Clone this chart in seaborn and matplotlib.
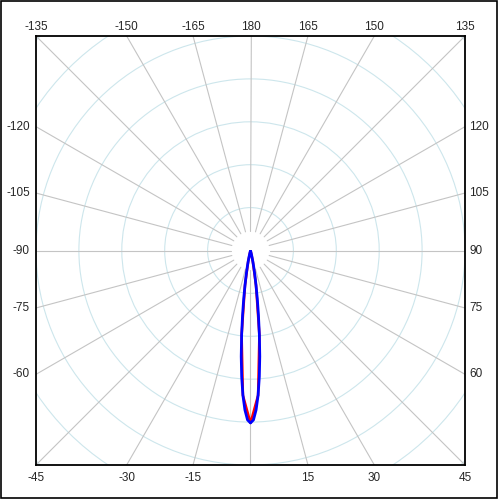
import matplotlib
matplotlib.use("Agg")
import matplotlib.pyplot as plt
from matplotlib.patches import Circle, Rectangle
import seaborn as sns
import numpy as np
import pandas as pd

sns.set_style("white")
plt.rcParams['font.family'] = ['Liberation Sans', 'DejaVu Sans']

# beam pattern, angle in degrees (0 = bottom), radius in grid units
blue_angles = [-15, -14, -13, -12, -11, -10, -9, -8, -7, -6, -5, -4, -3, -2, -1, 0,
               1, 2, 3, 4, 5, 6, 7, 8, 9, 10, 11, 12, 13, 14, 15]
blue_r = [0.02, 0.07, 0.15, 0.26, 0.40, 0.58, 0.82, 1.14, 1.52, 1.98, 2.48, 2.95, 3.38, 3.72, 3.95, 4.02,
          3.95, 3.72, 3.38, 2.95, 2.48, 1.98, 1.52, 1.14, 0.82, 0.58, 0.40, 0.26, 0.15, 0.07, 0.02]

red_angles = [-15, -12, -9, -6, -3, 0, 3, 6, 9, 12, 15]
red_r = [0.02, 0.26, 0.82, 1.98, 3.38, 4.02, 3.38, 1.98, 0.82, 0.26, 0.02]

top_labels = [-135, -150, -165, 180, 165, 150, 135]
bottom_labels = [-45, -30, -15, 15, 30, 45]
left_labels = [-120, -105, -90, -75, -60]
right_labels = [120, 105, 90, 75, 60]

R = 5.0
circle_r = [1, 2, 3, 4, 5, 6, 7]
spoke_angles = np.arange(0, 360, 15)


def to_xy(angles, radii):
    t = np.radians(np.asarray(angles, dtype=float))
    r = np.asarray(radii, dtype=float)
    return r * np.sin(t), -r * np.cos(t)


fig = plt.figure(figsize=(5, 5), dpi=100)
ax = fig.add_axes([0.072, 0.07, 0.858, 0.858])
ax.set_xlim(-R, R)
ax.set_ylim(-R, R)
ax.set_aspect('equal')
ax.set_xticks([])
ax.set_yticks([])
for s in ax.spines.values():
    s.set_color('black')
    s.set_linewidth(1.3)

# grid
for c in circle_r:
    ax.add_patch(Circle((0, 0), c, fill=False, color='#cde6ec', lw=0.8, zorder=1))
for a in spoke_angles:
    sx, sy = to_xy([a, a], [0.45, 9])
    ax.plot(sx, sy, color='#c4c4c4', lw=0.8, zorder=1)

# data
rx, ry = to_xy(red_angles, red_r)
bx, by = to_xy(blue_angles, blue_r)
red_df = pd.DataFrame({'x': rx, 'y': ry})
blue_df = pd.DataFrame({'x': bx, 'y': by})
sns.lineplot(data=red_df, x='x', y='y', sort=False, color='red', lw=1.8, ax=ax, zorder=3)
sns.lineplot(data=blue_df, x='x', y='y', sort=False, color='blue', lw=2.0, ax=ax, zorder=4)
ax.set_xlabel('')
ax.set_ylabel('')

# angle labels on the box
fs = 8.5
for a in top_labels:
    x = -R * np.tan(np.radians(a))
    ax.text(x, R + 0.21, str(a), ha='center', va='center', fontsize=fs, clip_on=False)
for a in bottom_labels:
    x = R * np.tan(np.radians(a))
    ax.text(x, -R - 0.3, str(a), ha='center', va='center', fontsize=fs, clip_on=False)
for a in left_labels:
    y = -R / np.tan(np.radians(-a))
    ax.text(-R - 0.14, y, str(a), ha='right', va='center', fontsize=fs, clip_on=False)
for a in right_labels:
    y = -R / np.tan(np.radians(a))
    ax.text(R + 0.1, y, str(a), ha='left', va='center', fontsize=fs, clip_on=False)

fig.patches.append(Rectangle((0.001, 0.005), 0.993, 0.994, transform=fig.transFigure,
                             fill=False, edgecolor='black', lw=1.2))

fig.savefig('out.png', dpi=100)
